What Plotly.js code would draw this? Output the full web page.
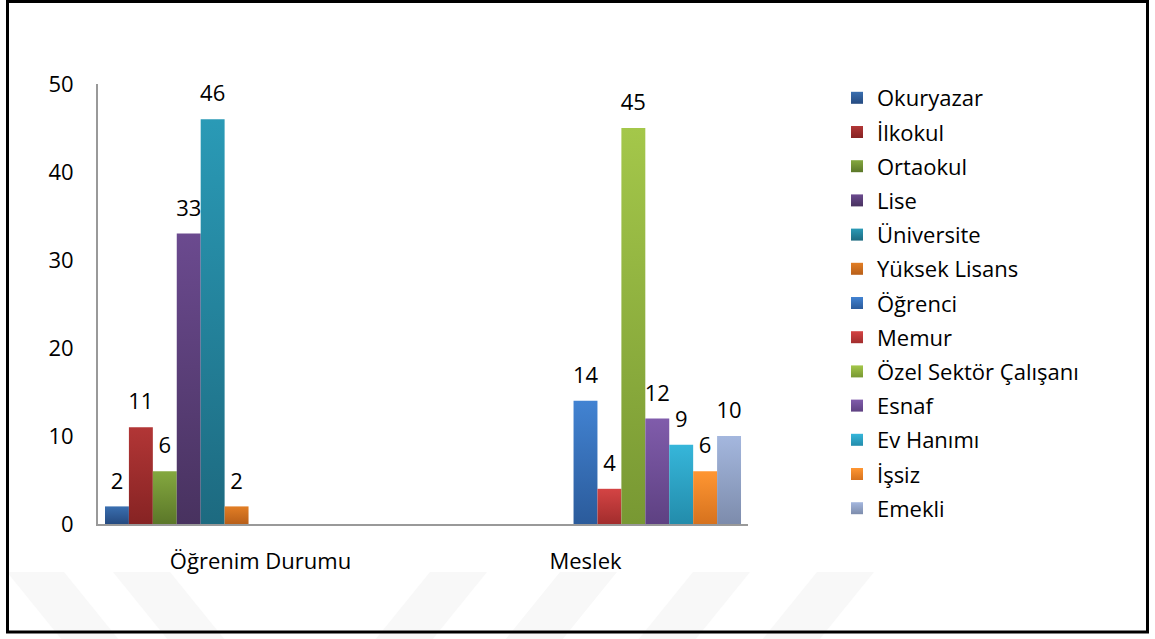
<!DOCTYPE html>
<html>
<head>
<meta charset="utf-8">
<script src="https://cdn.plot.ly/plotly-3.0.1.min.js"></script>
<style>
  html, body { margin: 0; padding: 0; background: #fff; }
  #chart { width: 1155px; height: 639px; }
</style>
</head>
<body>
<div id="chart"></div>
<script>
// ---- data ----
const categories = ['Öğrenim Durumu', 'Meslek'];

const educationLabels = ['Okuryazar', 'İlkokul', 'Ortaokul', 'Lise', 'Üniversite', 'Yüksek Lisans'];
const educationValues = [2, 11, 6, 33, 46, 2];

const occupationLabels = ['Öğrenci', 'Memur', 'Özel Sektör Çalışanı', 'Esnaf', 'Ev Hanımı', 'İşsiz', 'Emekli'];
const occupationValues = [14, 4, 45, 12, 9, 6, 10];

const yTickValues = [0, 10, 20, 30, 40, 50];

// ---- styles ----
const topColors = ['#3a6fb0', '#b23636', '#84a83f', '#6b4a8f', '#2a9ab6', '#e27e25',
                   '#4283d2', '#d44444', '#a4c74a', '#805cab', '#36b6da', '#ff9632', '#a4b7de'];
const bottomColors = ['#254a80', '#862323', '#5b7729', '#48325f', '#1d6a80', '#b85f19',
                      '#2b5b9b', '#a22d2d', '#789833', '#5e4182', '#238cab', '#d6721e', '#7d8cac'];
const midColors = ['#2f5d98', '#9c2d2d', '#719036', '#5a3e77', '#24829b', '#cd6f1f',
                   '#376fb7', '#bb3939', '#8fb03f', '#6f4e97', '#2ca1c3', '#ec8428', '#919fc5'];

const FONT = 'Open Sans, Noto Sans, sans-serif';
const FS = 22;

// ---- build traces ----
const seriesNames = educationLabels.concat(occupationLabels);
const seriesY = [];
educationValues.forEach(v => seriesY.push([v, null]));
occupationValues.forEach(v => seriesY.push([null, v]));

const barTraces = seriesNames.map((name, i) => ({
  type: 'bar',
  name: name,
  x: categories,
  y: seriesY[i],
  offsetgroup: 'g' + i,
  legendgroup: 'g' + i,
  marker: { color: midColors[i], line: { width: 0 } },
  hoverinfo: 'name+y'
}));

const labelTraces = seriesNames.map((name, i) => ({
  type: 'scatter',
  mode: 'markers+text',
  name: name,
  x: categories,
  y: seriesY[i],
  text: seriesY[i].map(v => v === null ? '' : String(v)),
  textposition: 'top center',
  textfont: { family: FONT, size: FS, color: '#000' },
  marker: { size: 18, opacity: 0, color: midColors[i] },
  offsetgroup: 'g' + i,
  showlegend: false,
  hoverinfo: 'skip',
  cliponaxis: false
}));

// ---- background decorations (frame + faint watermark stripes) ----
const L = 98, R = 748, T = 84, B = 524;
const px = v => (v - L) / (R - L);
const py = v => (B - v) / (B - T);
function band(tx0, tx1, bx0, bx1) {
  const yt = py(572), yb = py(640);
  return {
    type: 'path', xref: 'paper', yref: 'paper', layer: 'below',
    path: 'M' + px(tx0) + ',' + yt + ' L' + px(tx1) + ',' + yt + ' L' + px(bx1) + ',' + yb + ' L' + px(bx0) + ',' + yb + ' Z',
    fillcolor: '#f8f8f8', line: { width: 0 }
  };
}
const shapes = [
  band(7, 64, 62, 119),
  band(113, 170, 168, 225),
  band(430, 487, 375, 432),
  band(560, 617, 505, 562),
  band(693, 750, 638, 695),
  band(817, 874, 762, 819),
  {
    type: 'rect', xref: 'paper', yref: 'paper', layer: 'above',
    x0: px(7.5), x1: px(1147.5), y0: py(632), y1: py(1.5),
    line: { color: '#000', width: 3 }, fillcolor: 'rgba(0,0,0,0)'
  }
];

const layout = {
  width: 1155, height: 639,
  margin: { l: L, r: 1155 - R, t: T, b: 639 - B },
  paper_bgcolor: '#fff', plot_bgcolor: 'rgba(0,0,0,0)',
  font: { family: FONT, size: FS, color: '#000' },
  barmode: 'group', bargap: 0.043, bargroupgap: 0,
  scattermode: 'group', scattergap: 0.043,
  showlegend: true,
  legend: {
    xref: 'container', yref: 'container',
    x: 837 / 1155, y: 1 - 77 / 639, xanchor: 'left', yanchor: 'top',
    maxheight: 1,
    font: { family: FONT, size: FS, color: '#000' },
    bgcolor: 'rgba(0,0,0,0)', borderwidth: 0,
    traceorder: 'grouped', tracegroupgap: 2.6
  },
  xaxis: {
    type: 'category', showgrid: false, zeroline: false,
    showline: true, linecolor: '#999', linewidth: 2,
    ticks: '', ticklabelstandoff: 17,
    tickfont: { family: FONT, size: FS, color: '#000' }
  },
  yaxis: {
    range: [0, 50], tickvals: yTickValues, showgrid: false, zeroline: false,
    showline: true, linecolor: '#999', linewidth: 2,
    ticks: '', ticklabelstandoff: 18,
    tickfont: { family: FONT, size: FS, color: '#000' }
  },
  shapes: shapes
};

const gd = document.getElementById('chart');
Plotly.newPlot(gd, barTraces.concat(labelTraces), layout, { displayModeBar: false, staticPlot: true }).then(() => {
  // vertical gradients like the original spreadsheet bars
  const NS = 'http://www.w3.org/2000/svg';
  const svg = document.createElementNS(NS, 'svg');
  svg.setAttribute('width', '0'); svg.setAttribute('height', '0');
  svg.style.position = 'absolute';
  const defs = document.createElementNS(NS, 'defs');
  svg.appendChild(defs);
  document.body.appendChild(svg);
  seriesNames.forEach((n, i) => {
    const g = document.createElementNS(NS, 'linearGradient');
    g.setAttribute('id', 'bargrad' + i);
    g.setAttribute('x1', '0'); g.setAttribute('y1', '0');
    g.setAttribute('x2', '0'); g.setAttribute('y2', '1');
    const s1 = document.createElementNS(NS, 'stop');
    s1.setAttribute('offset', '0'); s1.setAttribute('stop-color', topColors[i]);
    const s2 = document.createElementNS(NS, 'stop');
    s2.setAttribute('offset', '1'); s2.setAttribute('stop-color', bottomColors[i]);
    g.appendChild(s1); g.appendChild(s2);
    defs.appendChild(g);
  });
  gd.querySelectorAll('.barlayer .trace').forEach((tr, i) => {
    tr.querySelectorAll('.point path').forEach(p => { p.style.fill = 'url(#bargrad' + i + ')'; });
  });
  gd.querySelectorAll('.legend .traces').forEach((tr, i) => {
    tr.querySelectorAll('.legendpoints path').forEach(p => { p.style.fill = 'url(#bargrad' + i + ')'; });
  });
});
</script>
</body>
</html>
